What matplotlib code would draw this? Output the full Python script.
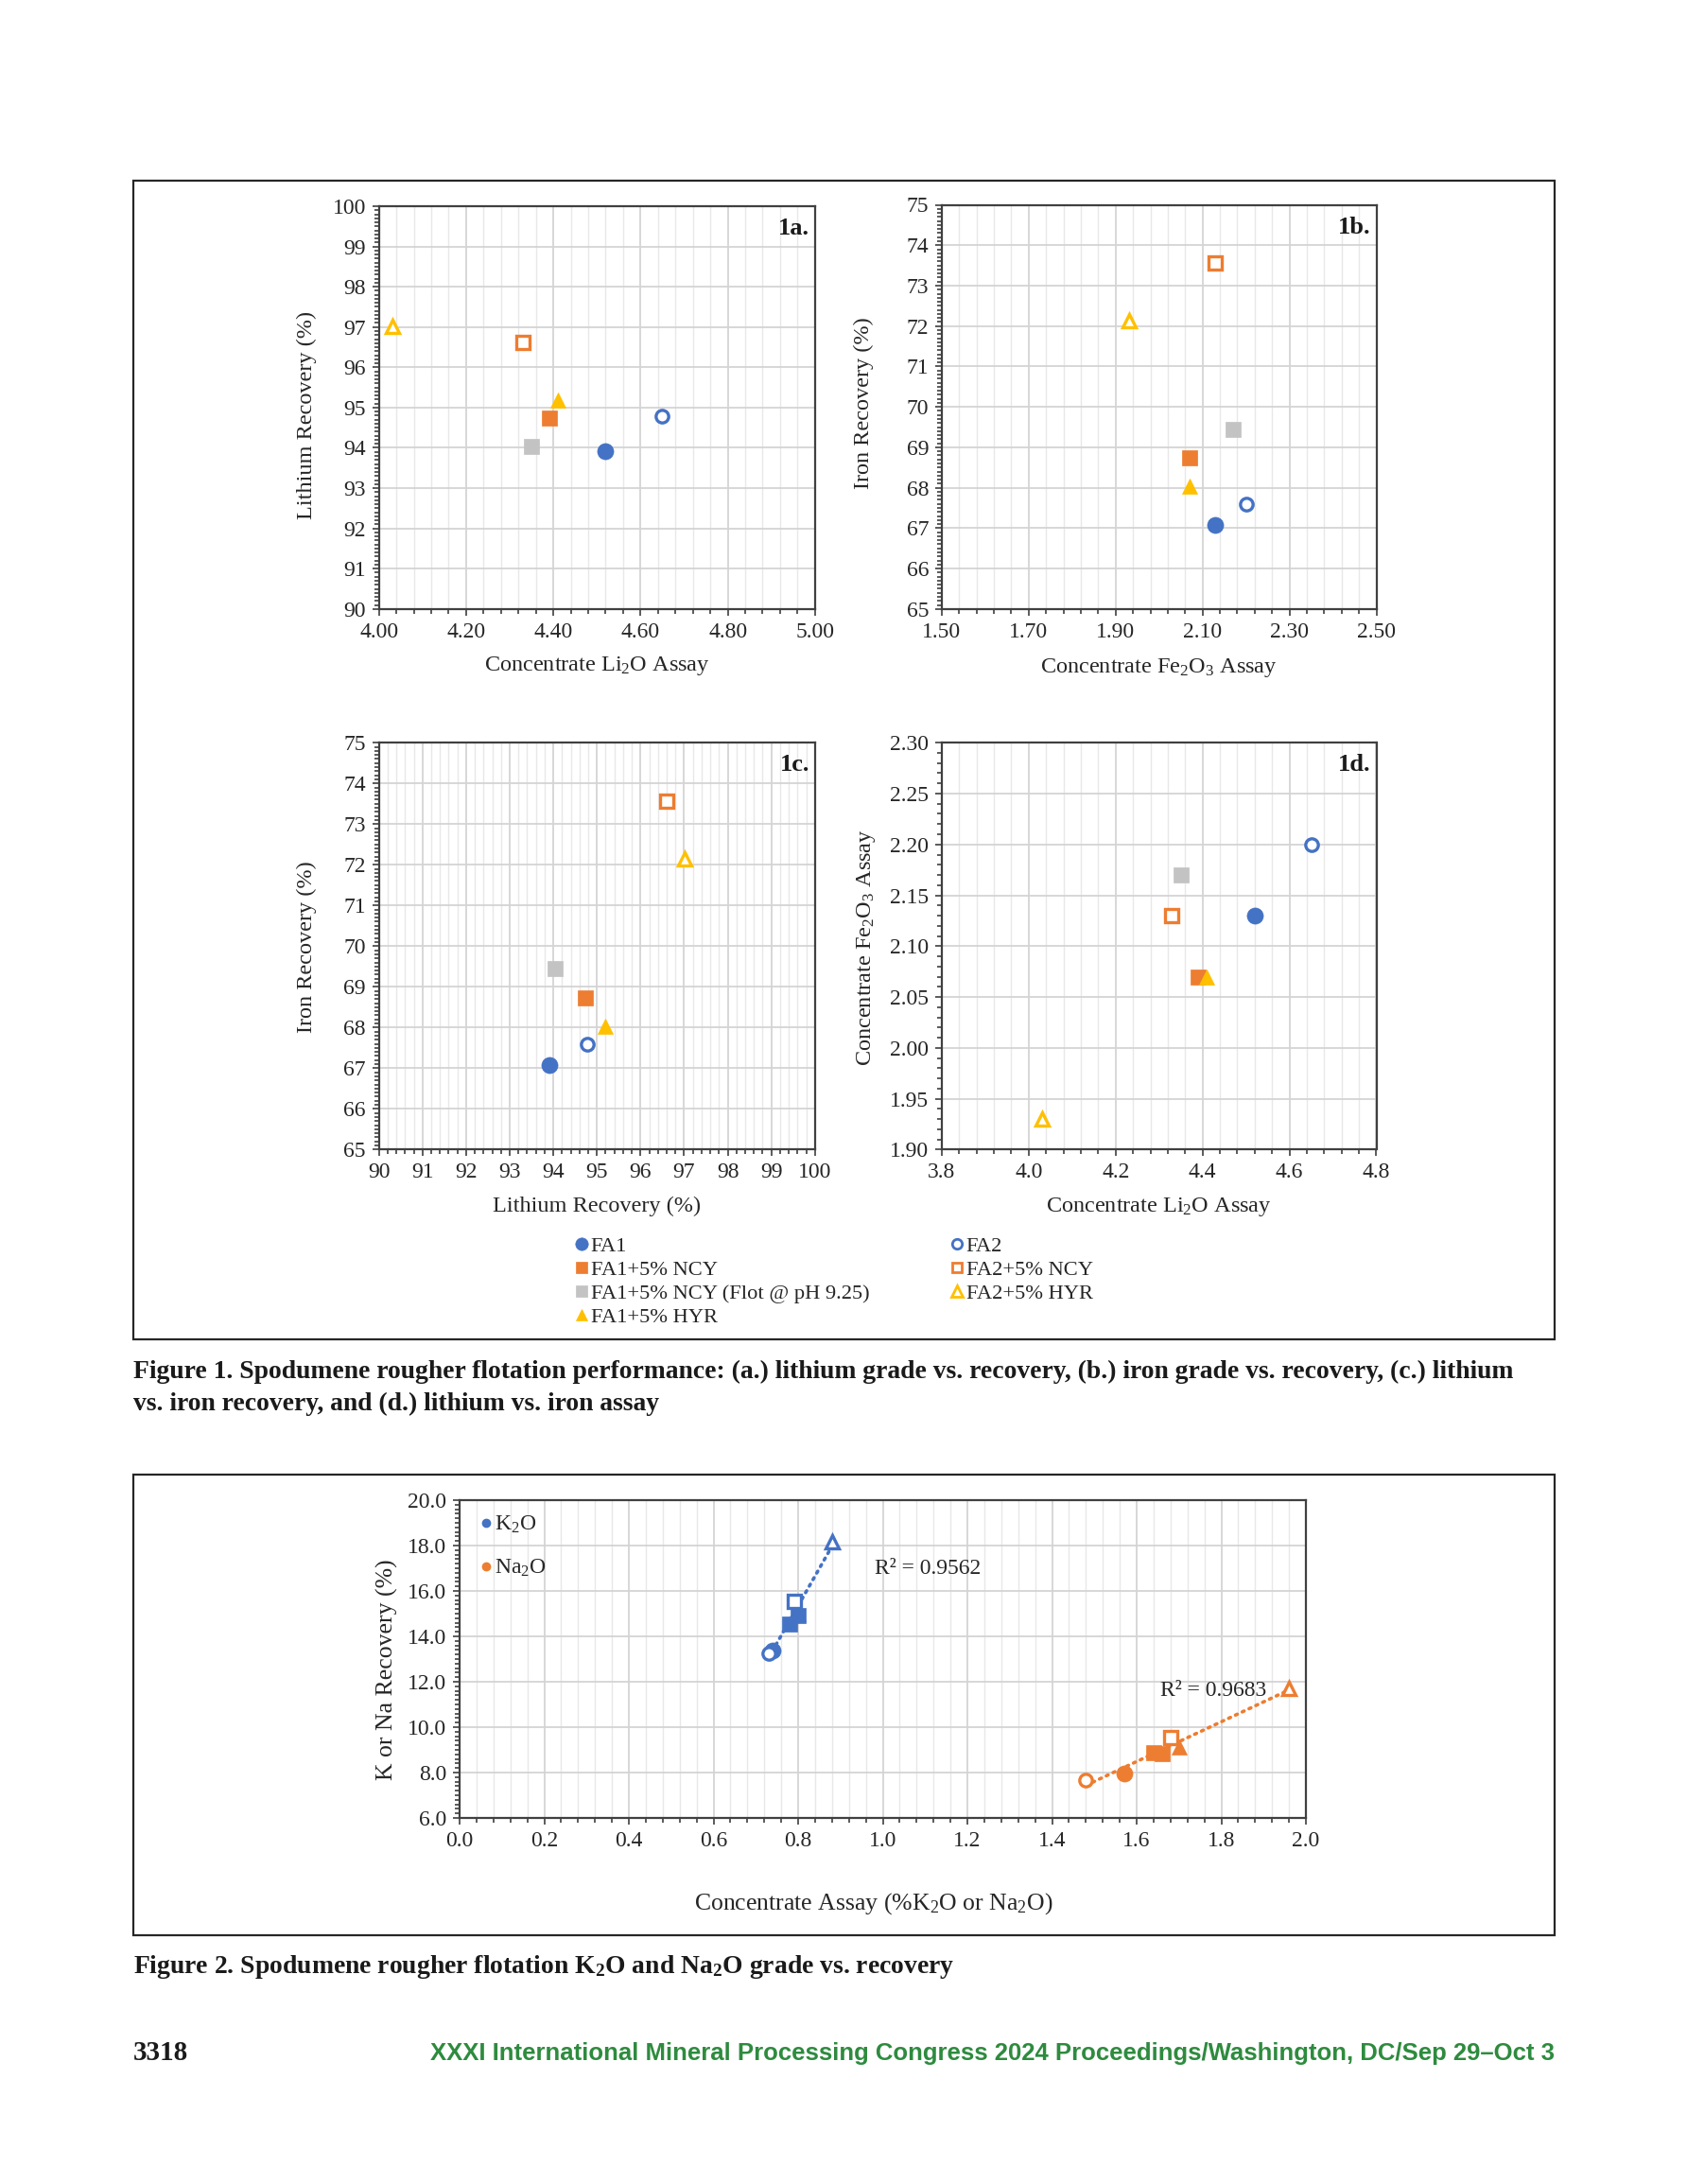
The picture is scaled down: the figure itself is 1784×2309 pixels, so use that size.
import matplotlib
matplotlib.use('Agg')
import matplotlib.pyplot as plt
import numpy as np
from matplotlib.ticker import FixedLocator, FormatStrFormatter
from matplotlib.lines import Line2D
from matplotlib.patches import Rectangle

plt.rcParams['font.family'] = ['Liberation Serif', 'DejaVu Serif']
plt.rcParams['mathtext.fontset'] = 'custom'
plt.rcParams['mathtext.rm'] = 'Liberation Serif'
plt.rcParams['mathtext.it'] = 'Liberation Serif:italic'
plt.rcParams['mathtext.bf'] = 'Liberation Serif:bold'
plt.rcParams['mathtext.default'] = 'regular'

# ---------------- data ----------------
conditions = ['FA1', 'FA1+5% NCY', 'FA1+5% NCY (Flot @ pH 9.25)', 'FA1+5% HYR',
              'FA2', 'FA2+5% NCY', 'FA2+5% HYR']
li2o_assay = [4.52, 4.39, 4.35, 4.41, 4.65, 4.33, 4.03]
li_recovery = [93.92, 94.73, 94.03, 95.18, 94.78, 96.61, 97.02]
fe2o3_assay = [2.13, 2.07, 2.17, 2.07, 2.20, 2.13, 1.93]
fe_recovery = [67.07, 68.74, 69.45, 68.03, 67.59, 73.57, 72.14]

k2o_assay = [0.74, 0.78, 0.80, 0.80, 0.73, 0.79, 0.88]
k_recovery = [13.38, 14.55, 14.90, 15.00, 13.24, 15.55, 18.17]
na2o_assay = [1.57, 1.64, 1.66, 1.70, 1.48, 1.68, 1.96]
na_recovery = [7.96, 8.86, 8.83, 9.11, 7.68, 9.53, 11.72]
r2_labels = ['R² = 0.9562', 'R² = 0.9683']
series2 = ['K$_2$O', 'Na$_2$O']

# ---------------- styles ----------------
BLUE = '#4472C4'
ORANGE = '#ED7D31'
GRAY = '#C3C3C3'
GOLD = '#FFC000'
cond_colors = [BLUE, ORANGE, GRAY, GOLD, BLUE, ORANGE, GOLD]
cond_markers = ['o', 's', 's', '^', 'o', 's', '^']
cond_filled = [True, True, True, True, False, False, False]
SPINE = '#404040'

W, H = 1784, 2309
fig = plt.figure(figsize=(W / 100, H / 100), dpi=100)


def rect(x0, x1, y0, y1):
    return [x0 / W, 1 - y1 / H, (x1 - x0) / W, (y1 - y0) / H]


def mstyle(i, color=None):
    c = color if color is not None else cond_colors[i]
    m = cond_markers[i]
    if cond_filled[i]:
        return dict(marker=m, markersize=11.8 if m != 'o' else 12.3, markerfacecolor=c,
                    markeredgecolor=c, markeredgewidth=0.5, linestyle='none')
    return dict(marker=m, markersize=9.6 if m != '^' else 10.2, markerfacecolor='white',
                markeredgecolor=c, markeredgewidth=2.4, linestyle='none')


def ticks(lo, hi, step):
    n = int(round((hi - lo) / step))
    return [round(lo + k * step, 6) for k in range(n + 1)]


TICK_FS = 17


def style_axes(ax, xlim, ylim, xmaj, xmin, ymaj, ymin, xfmt, yfmt):
    ax.set_xlim(*xlim)
    ax.set_ylim(*ylim)
    ax.xaxis.set_major_locator(FixedLocator(ticks(xlim[0], xlim[1], xmaj)))
    ax.xaxis.set_minor_locator(FixedLocator(ticks(xlim[0], xlim[1], xmin)))
    ax.yaxis.set_major_locator(FixedLocator(ticks(ylim[0], ylim[1], ymaj)))
    ax.yaxis.set_minor_locator(FixedLocator(ticks(ylim[0], ylim[1], ymin)))
    ax.xaxis.set_major_formatter(FormatStrFormatter(xfmt))
    ax.yaxis.set_major_formatter(FormatStrFormatter(yfmt))
    ax.grid(which='major', color='#D4D4D4', linewidth=1.3)
    ax.grid(which='minor', axis='x', color='#E8E8E8', linewidth=1.0)
    ax.set_axisbelow(True)
    for s in ax.spines.values():
        s.set_color(SPINE)
        s.set_linewidth(1.6)
    ax.tick_params(which='both', direction='out', color=SPINE, width=1.2,
                   labelsize=TICK_FS, labelcolor='#262626')
    ax.tick_params(which='major', length=5, pad=5)
    ax.tick_params(which='minor', length=3.5)


LABEL_FS = 17.5
LABEL_C = '#262626'

# ---------- Figure 1 panels ----------
panels = [
    dict(r=rect(400.7, 861.8, 218.0, 643.8), x=li2o_assay, y=li_recovery,
         xl=(4.0, 5.0), yl=(90, 100), xm=(0.2, 0.04), ym=(1, 0.1), fmt=('%.2f', '%.0f'),
         xlab='Concentrate Li$_2$O Assay', ylab='Lithium Recovery (%)', tag='1a.',
         ylc=(-0.166, 0.48), xlc=(0.5, -0.142)),
    dict(r=rect(995.9, 1455.5, 216.5, 643.8), x=fe2o3_assay, y=fe_recovery,
         xl=(1.5, 2.5), yl=(65, 75), xm=(0.2, 0.04), ym=(1, 0.1), fmt=('%.2f', '%.0f'),
         xlab='Concentrate Fe$_2$O$_3$ Assay', ylab='Iron Recovery (%)', tag='1b.',
         ylc=(-0.18, 0.51), xlc=(0.5, -0.145)),
    dict(r=rect(400.7, 861.8, 785.2, 1215.4), x=li_recovery, y=fe_recovery,
         xl=(90, 100), yl=(65, 75), xm=(1, 0.2), ym=(1, 0.1), fmt=('%.0f', '%.0f'),
         xlab='Lithium Recovery (%)', ylab='Iron Recovery (%)', tag='1c.',
         ylc=(-0.166, 0.497), xlc=(0.5, -0.140)),
    dict(r=rect(995.9, 1455.5, 785.2, 1215.4), x=li2o_assay, y=fe2o3_assay,
         xl=(3.8, 4.8), yl=(1.90, 2.30), xm=(0.2, 0.04), ym=(0.05, 0.01), fmt=('%.1f', '%.2f'),
         xlab='Concentrate Li$_2$O Assay', ylab='Concentrate Fe$_2$O$_3$ Assay', tag='1d.',
         ylc=(-0.173, 0.497), xlc=(0.5, -0.140)),
]

for p in panels:
    ax = fig.add_axes(p['r'])
    style_axes(ax, p['xl'], p['yl'], p['xm'][0], p['xm'][1], p['ym'][0], p['ym'][1],
               p['fmt'][0], p['fmt'][1])
    for i in range(len(conditions)):
        ax.plot([p['x'][i]], [p['y'][i]], label=conditions[i], zorder=3, **mstyle(i))
    ax.set_xlabel(p['xlab'], fontsize=LABEL_FS, color=LABEL_C, va='center')
    ax.set_ylabel(p['ylab'], fontsize=LABEL_FS, color=LABEL_C, va='center')
    ax.xaxis.set_label_coords(*p['xlc'])
    ax.yaxis.set_label_coords(*p['ylc'])
    ax.text(0.987, 0.945, p['tag'], transform=ax.transAxes, ha='right', va='center',
            fontsize=19, fontweight='bold', color='#1a1a1a')

# legend for figure 1
leg_handles = []
for i in range(len(conditions)):
    st = mstyle(i)
    st['markersize'] = st['markersize'] * 0.78
    if not cond_filled[i]:
        st['markeredgewidth'] = 2.0
    leg_handles.append(Line2D([], [], **st))
fig.legend(leg_handles, conditions, ncol=2, loc='upper left',
           bbox_to_anchor=(609 / W, 1 - 1307 / H), frameon=False, fontsize=16.2,
           handlelength=0.55, handletextpad=0.15, labelspacing=0.19, columnspacing=3.85,
           borderpad=0, borderaxespad=0, labelcolor='#262626')

# ---------- Figure 2 ----------
ax2 = fig.add_axes(rect(486, 1381, 1586, 1922))
style_axes(ax2, (0.0, 2.0), (6.0, 20.0), 0.2, 0.04, 2.0, 0.2, '%.1f', '%.1f')
for xs, ys, col in [(k2o_assay, k_recovery, BLUE), (na2o_assay, na_recovery, ORANGE)]:
    for i in range(len(conditions)):
        z = 2.6 if i == 3 else 3
        ax2.plot([xs[i]], [ys[i]], zorder=z, **mstyle(i, col))
    coef = np.polyfit(xs, ys, 1)
    xx = np.array([min(xs), max(xs)])
    ax2.plot(xx, np.polyval(coef, xx), color=col, linewidth=2.6,
             linestyle=(0, (0.6, 1.6)), dash_capstyle='round', zorder=2.5)
ax2.text(0.98, 17.0, r2_labels[0], fontsize=17, color='#262626', ha='left', va='center')
ax2.text(1.655, 11.62, r2_labels[1], fontsize=17, color='#262626', ha='left', va='center')
lh2 = [Line2D([], [], marker='o', markersize=6, color=BLUE, linestyle='none'),
       Line2D([], [], marker='o', markersize=6, color=ORANGE, linestyle='none')]
ax2.legend(lh2, series2, loc='upper left', bbox_to_anchor=(0.026, 0.955), frameon=False,
           fontsize=17, handlelength=0.4, handletextpad=0.2, labelspacing=1.0,
           borderpad=0, borderaxespad=0, labelcolor='#262626')
ax2.set_xlabel('Concentrate Assay (%K$_2$O or Na$_2$O)', fontsize=18.5, color=LABEL_C,
               va='center')
ax2.set_ylabel('K or Na Recovery (%)', fontsize=18.5, color=LABEL_C, va='center')
ax2.xaxis.set_label_coords(0.489, -0.269)
ax2.yaxis.set_label_coords(-0.086, 0.467)

# ---------- frames ----------
for y0, y1 in [(191.5, 1415.7), (1558.6, 2046.0)]:
    fig.patches.append(Rectangle((141.4 / W, 1 - y1 / H), (1644 - 141.4) / W, (y1 - y0) / H,
                                 transform=fig.transFigure, fill=False,
                                 edgecolor='#262626', linewidth=1.6))

# ---------- captions ----------
cap_kw = dict(fontsize=19.9, fontweight='bold', color='#1a1a1a', ha='left', va='center')
fig.text(141 / W, 1 - 1450 / H,
         'Figure 1. Spodumene rougher flotation performance: (a.) lithium grade vs. recovery, '
         '(b.) iron grade vs. recovery, (c.) lithium', **cap_kw)
fig.text(141 / W, 1 - 1484 / H,
         'vs. iron recovery, and (d.) lithium vs. iron assay', **cap_kw)
fig.text(141 / W, 1 - 2080 / H,
         r'Figure 2. Spodumene rougher flotation K$_\mathbf{2}$O and Na$_\mathbf{2}$O grade vs. recovery',
         **cap_kw)
fig.text(141 / W, 1 - 2171 / H, '3318', fontsize=21, fontweight='bold', color='#1a1a1a',
         ha='left', va='center')
fig.text(1644 / W, 1 - 2171 / H,
         'XXXI International Mineral Processing Congress 2024 Proceedings/Washington, DC/Sep 29\u2013Oct 3',
         fontsize=18.5, fontweight='bold', color='#2E8B3E', ha='right', va='center',
         family=['Liberation Sans Narrow', 'Liberation Sans', 'DejaVu Sans'])

fig.savefig('out.png', dpi=100, facecolor='white')
